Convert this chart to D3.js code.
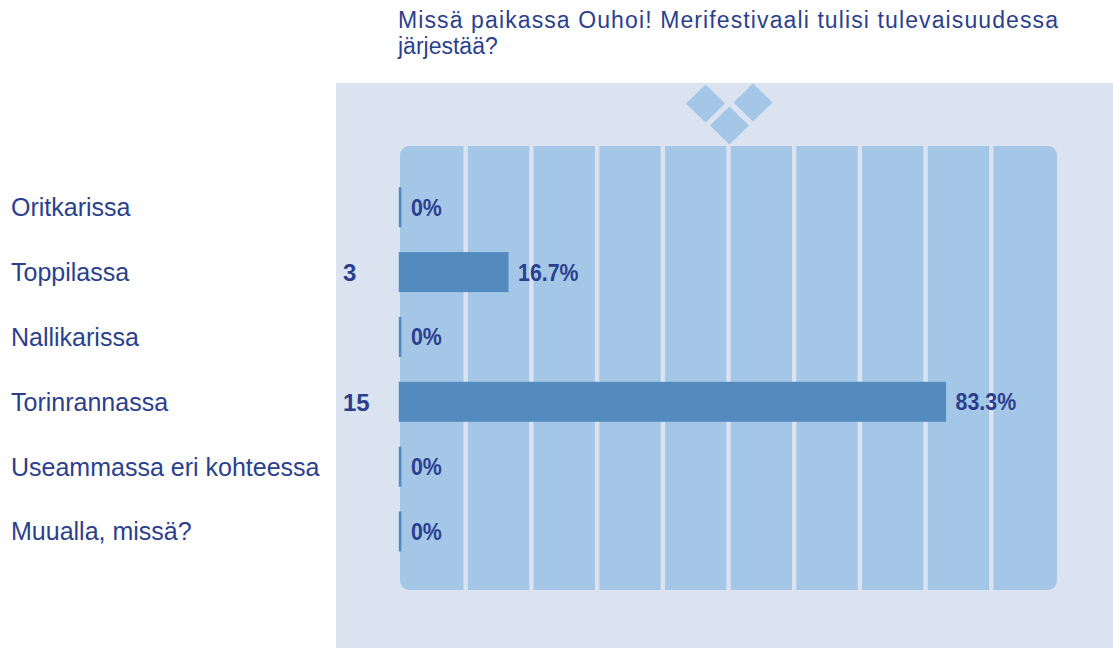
<!DOCTYPE html>
<html>
<head>
<meta charset="utf-8">
<script src="https://cdn.jsdelivr.net/npm/d3@7"></script>
<style>
  html, body { margin: 0; padding: 0; background: #ffffff; }
  svg { display: block; }
</style>
</head>
<body>
<svg id="chart" width="1113" height="648"></svg>
<script>
// Survey question and answers
const titleLines = ["Missä paikassa Ouhoi! Merifestivaali tulisi tulevaisuudessa", "järjestää?"];
const categories = ["Oritkarissa", "Toppilassa", "Nallikarissa", "Torinrannassa", "Useammassa eri kohteessa", "Muualla, missä?"];
const counts = [0, 3, 0, 15, 0, 0];
const percents = [0, 16.7, 0, 83.3, 0, 0];

const svg = d3.select("#chart");
const W = 1113, H = 648;

const textColor = "#2b3f8e";
const panelColor = "#dbe2f0";
const plotColor = "#a4c7e8";
const barColor = "#548bbf";

// Scales
const x = d3.scaleLinear().domain([0, 100]).range([398.8, 1055.8]);
const y = d3.scaleBand()
  .domain(categories)
  .range([174.8, 563.9])
  .paddingInner(0.383)
  .paddingOuter(0.1915);

// Background panel
svg.append("rect").attr("x", 336).attr("y", 83).attr("width", W - 336).attr("height", H - 83)
  .attr("fill", panelColor);

// Decorative diamonds above the plot
const diamonds = [[705.5, 103.5], [753, 102.5], [729.5, 125.5]];
svg.append("g").selectAll("path").data(diamonds).join("path")
  .attr("d", d => `M${d[0]},${d[1] - 19}L${d[0] + 19.5},${d[1]}L${d[0]},${d[1] + 19}L${d[0] - 19.5},${d[1]}Z`)
  .attr("fill", plotColor);

// Plot area
const plotX0 = 400, plotX1 = 1057, plotY0 = 146, plotY1 = 590;
svg.append("rect").attr("x", plotX0).attr("y", plotY0)
  .attr("width", plotX1 - plotX0).attr("height", plotY1 - plotY0)
  .attr("rx", 9).attr("fill", plotColor);

// Column separators every 10 %
const gridTicks = d3.range(10, 100, 10);
const gx = d3.scaleLinear().domain([0, 100]).range([plotX0, plotX1]);
svg.append("g").selectAll("rect").data(gridTicks).join("rect")
  .attr("x", d => gx(d) - 2.2).attr("y", plotY0)
  .attr("width", 4.4).attr("height", plotY1 - plotY0)
  .attr("fill", panelColor);

// Bars
const rows = categories.map((c, i) => ({ cat: c, count: counts[i], pct: percents[i] }));
const minW = 2.6;
svg.append("g").selectAll("rect").data(rows).join("rect")
  .attr("x", x(0))
  .attr("y", d => y(d.cat))
  .attr("width", d => Math.max(x(d.pct) - x(0), minW))
  .attr("height", y.bandwidth())
  .attr("fill", barColor);

// Category labels
svg.append("g").selectAll("text").data(rows).join("text")
  .attr("x", 11)
  .attr("y", d => y(d.cat) + y.bandwidth() / 2 + 9)
  .attr("font-family", "'Liberation Sans', Arial, sans-serif")
  .attr("font-size", 25)
  .attr("fill", textColor)
  .text(d => d.cat);

// Counts (shown for answered options)
svg.append("g").selectAll("text").data(rows.filter(d => d.count > 0)).join("text")
  .attr("x", 343)
  .attr("y", d => y(d.cat) + y.bandwidth() / 2 + 9)
  .attr("font-family", "'Liberation Sans', Arial, sans-serif")
  .attr("font-weight", "bold")
  .attr("font-size", 24)
  .attr("fill", textColor)
  .text(d => d.count);

// Percent labels, slightly condensed
const fmt = v => (v === 0 ? "0" : d3.format(".1f")(v)) + "%";
svg.append("g").selectAll("text").data(rows).join("text")
  .attr("transform", d => `translate(${x(0) + Math.max(x(d.pct) - x(0), minW) + 9.5},${y(d.cat) + y.bandwidth() / 2 + 8.5}) scale(0.89,1)`)
  .attr("font-family", "'Liberation Sans', Arial, sans-serif")
  .attr("font-weight", "bold")
  .attr("font-size", 24)
  .attr("fill", textColor)
  .text(d => fmt(d.pct));

// Title
svg.append("g").selectAll("text").data(titleLines).join("text")
  .attr("x", 398)
  .attr("y", (d, i) => 28 + i * 26)
  .attr("font-family", "'Liberation Sans', Arial, sans-serif")
  .attr("font-size", 23)
  .attr("fill", textColor)
  .attr("textLength", (d, i) => i === 0 ? 660 : null)
  .attr("lengthAdjust", "spacing")
  .text(d => d);
</script>
</body>
</html>
